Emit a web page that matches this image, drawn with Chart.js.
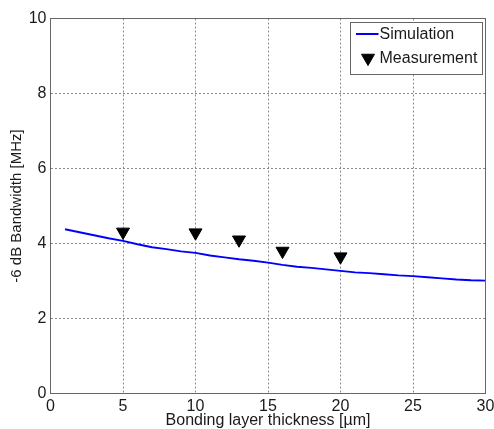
<!DOCTYPE html>
<html>
<head>
<meta charset="utf-8">
<script src="https://cdn.jsdelivr.net/npm/chart.js@4/dist/chart.umd.min.js"></script>
<style>
  html, body { margin: 0; padding: 0; background: #fff; }
  #c { display: block; }
</style>
</head>
<body>
<canvas id="c" width="494" height="429"></canvas>
<script>
// Simulation curve (thickness in um, bandwidth in MHz)
const simThickness = [1,2,3,4,5,6,7,8,9,10,11,12,13,14,15,16,17,18,19,20,21,22,23,24,25,26,27,28,29,30];
const simBandwidth = [4.38,4.30,4.22,4.14,4.07,3.98,3.90,3.85,3.79,3.75,3.68,3.63,3.58,3.54,3.49,3.43,3.38,3.35,3.31,3.27,3.23,3.21,3.18,3.15,3.13,3.10,3.07,3.04,3.02,3.01];
// Measurements
const measThickness = [5, 10, 13, 16, 20];
const measBandwidth = [4.31, 4.29, 4.10, 3.80, 3.65];
// Axis ticks
const xTicks = [0, 5, 10, 15, 20, 25, 30];
const yTicks = [0, 2, 4, 6, 8, 10];
const seriesNames = ['Simulation', 'Measurement'];
const xTitle = 'Bonding layer thickness [\u00b5m]';
const yTitle = '-6 dB Bandwidth [MHz]';

const FONT = "'Liberation Sans', Arial, sans-serif";
const AXIS_COLOR = '#666666';
const GRID_COLOR = '#8a8a8a';
const TEXT_COLOR = '#1a1a1a';

const boxPlugin = {
  id: 'box',
  afterDatasetsDraw(chart) {
    const {ctx, chartArea: a} = chart;
    ctx.save();
    ctx.strokeStyle = AXIS_COLOR;
    ctx.lineWidth = 1;
    ctx.strokeRect(a.left, a.top, a.right - a.left, a.bottom - a.top);
    ctx.restore();
  }
};

const legendPlugin = {
  id: 'matlabLegend',
  afterDraw(chart) {
    const ctx = chart.ctx;
    const bx = 350.5, by = 22.5, bw = 132, bh = 52;
    ctx.save();
    ctx.fillStyle = '#fff';
    ctx.fillRect(bx, by, bw, bh);
    ctx.strokeStyle = AXIS_COLOR;
    ctx.lineWidth = 1;
    ctx.strokeRect(bx, by, bw, bh);
    // entry 1: line
    ctx.strokeStyle = '#0000ff';
    ctx.lineWidth = 2;
    ctx.beginPath();
    ctx.moveTo(356, 34);
    ctx.lineTo(378.5, 34);
    ctx.stroke();
    // entry 2: triangle down
    const tx = 368, ty = 58, r = 7.5;
    ctx.fillStyle = '#000';
    ctx.strokeStyle = '#000';
    ctx.lineWidth = 1;
    ctx.beginPath();
    for (let k = 0; k < 3; k++) {
      const ang = Math.PI + k * 2 * Math.PI / 3;
      const px = tx + Math.sin(ang) * r, py = ty - Math.cos(ang) * r;
      if (k === 0) ctx.moveTo(px, py); else ctx.lineTo(px, py);
    }
    ctx.closePath();
    ctx.fill();
    ctx.stroke();
    ctx.fillStyle = TEXT_COLOR;
    ctx.font = '16px ' + FONT;
    ctx.textAlign = 'left';
    ctx.textBaseline = 'middle';
    ctx.fillText(seriesNames[0], 379.5, 35);
    ctx.fillText(seriesNames[1], 379.5, 58.5);
    ctx.restore();
  }
};

new Chart(document.getElementById('c'), {
  type: 'scatter',
  data: {
    datasets: [
      {
        label: seriesNames[0],
        data: simThickness.map((x, i) => ({x: x, y: simBandwidth[i]})),
        showLine: true,
        borderColor: '#0000ff',
        backgroundColor: '#0000ff',
        borderWidth: 2,
        pointRadius: 0,
        tension: 0,
        order: 2
      },
      {
        label: seriesNames[1],
        data: measThickness.map((x, i) => ({x: x, y: measBandwidth[i]})),
        showLine: false,
        pointStyle: 'triangle',
        rotation: 180,
        pointRadius: 7.5,
        pointHoverRadius: 7.5,
        pointBorderWidth: 1,
        borderColor: '#000',
        backgroundColor: '#000',
        order: 1
      }
    ]
  },
  options: {
    responsive: false,
    animation: false,
    devicePixelRatio: 1,
    layout: { padding: { left: 0, right: 8.5, top: 18.5, bottom: 0 } },
    plugins: {
      legend: { display: false },
      tooltip: { enabled: false },
      title: { display: false }
    },
    scales: {
      x: {
        type: 'linear',
        min: 0, max: 30,
        afterBuildTicks(scale) { scale.ticks = xTicks.map(v => ({value: v})); },
        afterFit(scale) { scale.height = 35.5; scale.paddingLeft = 0; scale.paddingRight = 0; },
        ticks: {
          padding: 3,
          color: TEXT_COLOR,
          font: { family: FONT, size: 16 },
          maxRotation: 0,
          autoSkip: false
        },
        grid: { color: GRID_COLOR, lineWidth: 1, drawTicks: false },
        border: { display: false, dash: [2, 2] },
        title: {
          display: true,
          text: xTitle,
          color: TEXT_COLOR,
          font: { family: FONT, size: 16, lineHeight: 1.0 },
          padding: { top: 0, bottom: 0 }
        }
      },
      y: {
        type: 'linear',
        min: 0, max: 10,
        afterBuildTicks(scale) { scale.ticks = yTicks.map(v => ({value: v})); },
        afterFit(scale) { scale.width = 50.5; scale.paddingTop = 0; scale.paddingBottom = 0; },
        ticks: {
          padding: 4,
          color: TEXT_COLOR,
          font: { family: FONT, size: 16 },
          autoSkip: false
        },
        grid: { color: GRID_COLOR, lineWidth: 1, drawTicks: false },
        border: { display: false, dash: [2, 2] },
        title: {
          display: true,
          text: yTitle,
          color: TEXT_COLOR,
          font: { family: FONT, size: 15 },
          padding: { top: 7.6, bottom: 0 }
        }
      }
    }
  },
  plugins: [boxPlugin, legendPlugin]
});
</script>
</body>
</html>
